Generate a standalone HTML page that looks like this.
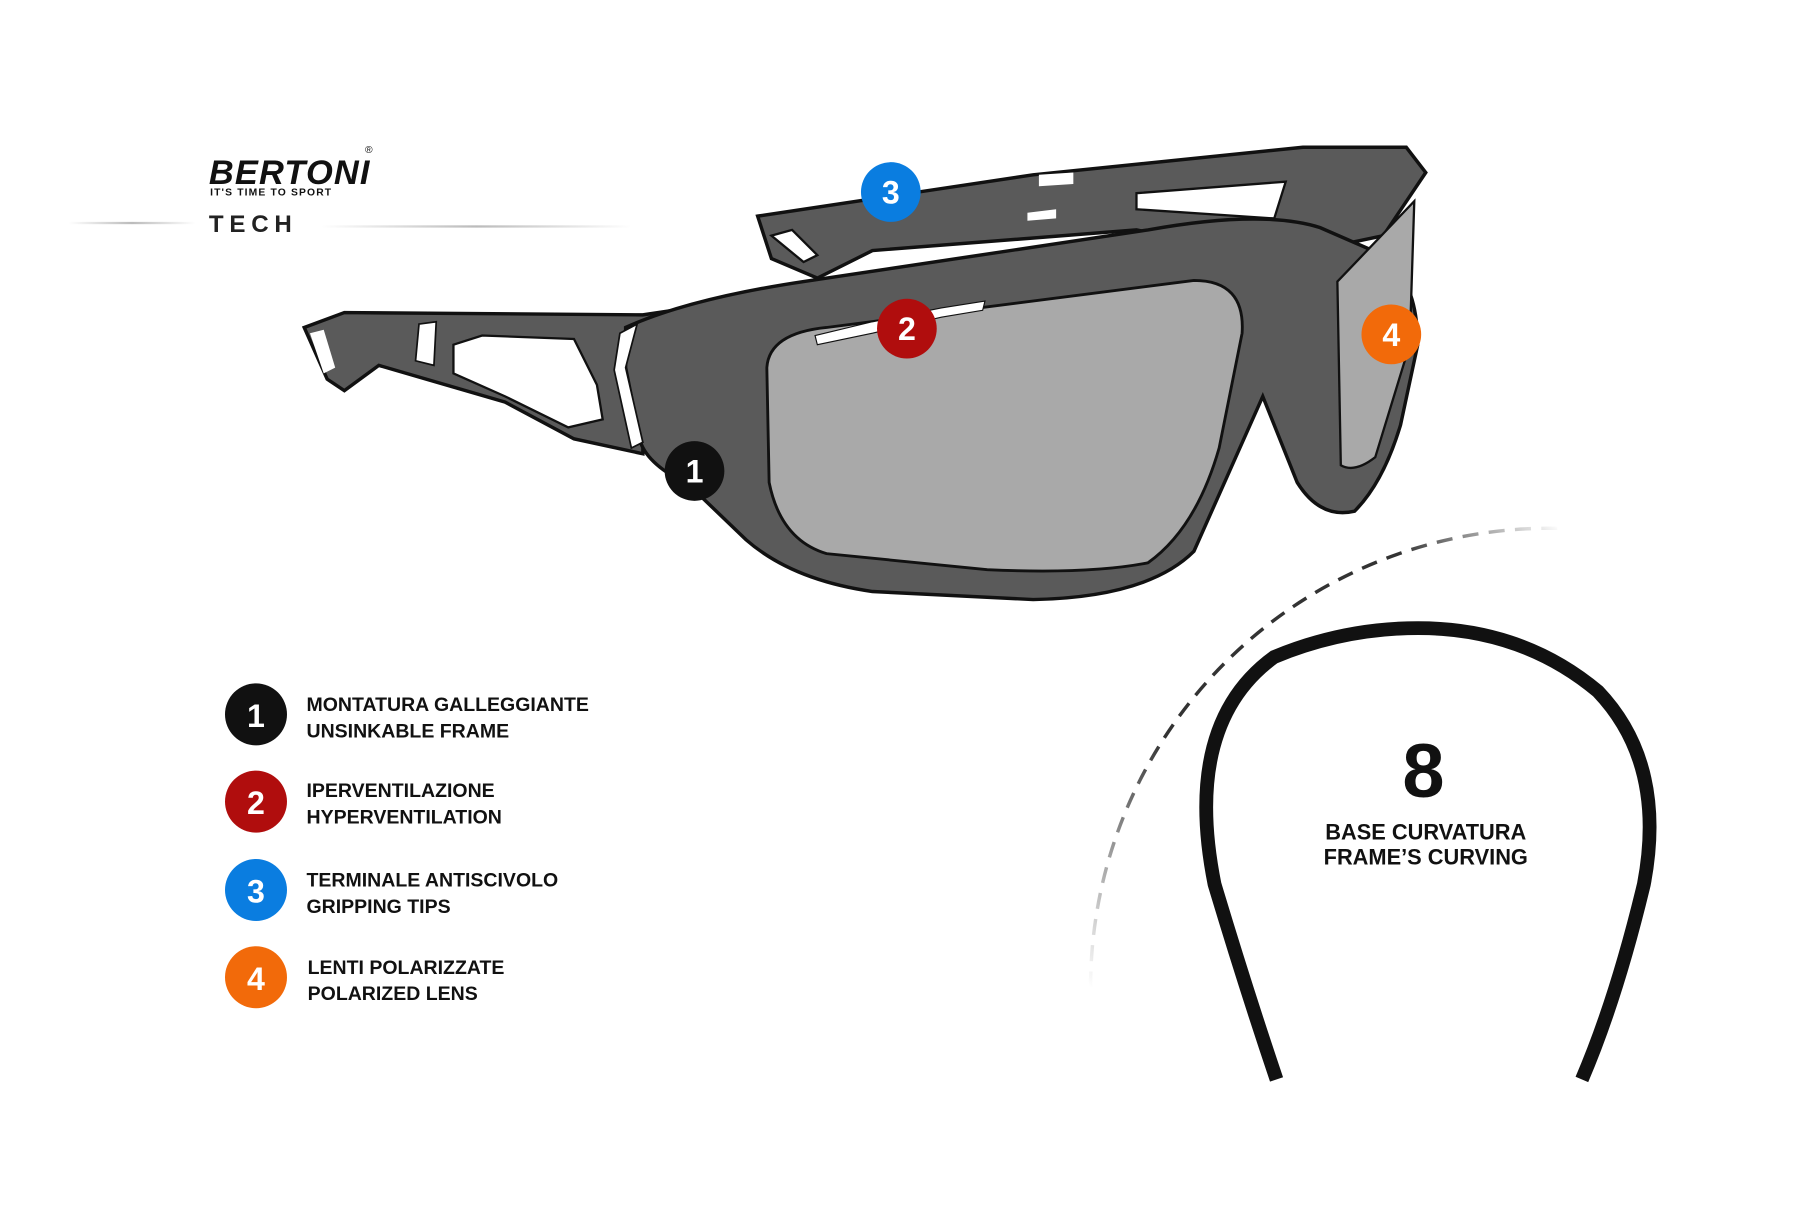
<!DOCTYPE html>
<html><head><meta charset="utf-8"><style>
html,body{margin:0;padding:0;background:#fff;}
svg{display:block;}
text{font-family:"Liberation Sans",sans-serif;}
</style></head><body>
<svg width="1800" height="1206" viewBox="0 0 1568 1050" xmlns="http://www.w3.org/2000/svg">
<defs>
<linearGradient id="ln" x1="0" x2="1"><stop offset="0" stop-color="#fff"/><stop offset="0.5" stop-color="#bbb"/><stop offset="1" stop-color="#fff"/></linearGradient>
<linearGradient id="dash" x1="0" y1="1" x2="1" y2="0"><stop offset="0" stop-color="#fff"/><stop offset="0.35" stop-color="#333"/><stop offset="0.8" stop-color="#333"/><stop offset="1" stop-color="#fff"/></linearGradient>
</defs>
<rect width="1568" height="1050" fill="#fff"/>
<!-- logo -->
<text x="182" y="160" font-size="30" font-weight="bold" font-style="italic" fill="#111" letter-spacing="1">BERTONI</text>
<text x="318" y="133" font-size="9" fill="#111">®</text>
<text x="183" y="170" font-size="9" font-weight="bold" fill="#111" letter-spacing="1">IT'S TIME TO SPORT</text>
<text x="182" y="202" font-size="21" font-weight="bold" fill="#222" letter-spacing="5">TECH</text>
<rect x="60" y="193" width="110" height="2" fill="url(#ln)"/>
<rect x="280" y="196" width="270" height="2" fill="url(#ln)"/>

<!-- top temple arm -->
<path d="M660,188 L900,152 L1135,128 L1225,128 L1242,150 L1205,205 L1110,225 L990,200 L760,218 L712,242 L672,225 Z" fill="#5a5a5a" stroke="#111" stroke-width="3"/>
<path d="M990,168 L1120,158 L1110,190 L990,182 Z" fill="#fff" stroke="#111" stroke-width="2"/>
<path d="M672,205 L690,200 L712,222 L700,228 Z" fill="#fff" stroke="#111" stroke-width="2"/>
<path d="M905,152 L935,150 L935,160 L905,162 Z M895,185 L920,182 L920,190 L895,192 Z" fill="#fff"/>
<!-- left temple arm -->
<path d="M265,285 L300,272 L560,274 L600,268 L560,330 L560,395 L500,382 L440,350 L330,318 L300,340 L285,330 Z" fill="#5a5a5a" stroke="#111" stroke-width="3"/>
<path d="M395,300 L420,292 L500,295 L520,335 L525,365 L495,372 L440,345 L395,325 Z" fill="#fff" stroke="#111" stroke-width="2"/>
<path d="M270,290 L282,287 L292,320 L282,325 Z" fill="#fff"/>
<path d="M365,282 L380,280 L378,318 L362,314 Z" fill="#fff" stroke="#111" stroke-width="1.5"/>
<!-- front frame -->
<path d="M545,285 Q600,260 700,245 L1000,200 Q1100,182 1150,198 L1205,222 Q1235,245 1235,300 L1220,370 Q1205,420 1180,445 Q1150,452 1130,420 L1100,345 L1040,480 Q1000,520 900,522 L760,515 Q690,505 650,470 L600,422 Q565,405 558,385 L545,320 Z" fill="#5a5a5a" stroke="#111" stroke-width="3"/>
<path d="M540,290 L555,282 L545,320 L560,385 L550,390 L535,322 Z" fill="#fff" stroke="#111" stroke-width="1.5"/>
<!-- lens -->
<path d="M668,320 Q670,290 720,285 L1040,244 Q1085,244 1082,290 L1062,390 Q1042,460 1000,490 Q950,500 860,496 L720,482 Q680,470 670,420 Z" fill="#a9a9a9" stroke="#111" stroke-width="2.5"/>
<path d="M1165,245 L1232,175 L1228,300 L1198,398 Q1180,412 1168,405 Z" fill="#a9a9a9" stroke="#111" stroke-width="2"/>
<path d="M710,292 L760,280 L820,268 L858,262 L856,270 L820,276 L760,290 L712,300 Z" fill="#fff" stroke="#111" stroke-width="1"/>
<!-- badges -->
<g font-weight="bold" font-size="28" text-anchor="middle" fill="#fff">
<circle cx="605" cy="410" r="26" fill="#111"/><text x="605" y="420">1</text>
<circle cx="790" cy="286" r="26" fill="#b00d0d"/><text x="790" y="296">2</text>
<circle cx="776" cy="167" r="26" fill="#0a7de0"/><text x="776" y="177">3</text>
<circle cx="1212" cy="291" r="26" fill="#f26a0a"/><text x="1212" y="301">4</text>
<circle cx="223" cy="622" r="27" fill="#111"/><text x="223" y="633">1</text>
<circle cx="223" cy="698" r="27" fill="#b00d0d"/><text x="223" y="709">2</text>
<circle cx="223" cy="775" r="27" fill="#0a7de0"/><text x="223" y="786">3</text>
<circle cx="223" cy="851" r="27" fill="#f26a0a"/><text x="223" y="862">4</text>
</g>
<g font-weight="bold" font-size="17" fill="#111">
<text x="267" y="619">MONTATURA GALLEGGIANTE</text><text x="267" y="642">UNSINKABLE FRAME</text>
<text x="267" y="694">IPERVENTILAZIONE</text><text x="267" y="717">HYPERVENTILATION</text>
<text x="267" y="772">TERMINALE ANTISCIVOLO</text><text x="267" y="795">GRIPPING TIPS</text>
<text x="268" y="848">LENTI POLARIZZATE</text><text x="268" y="871">POLARIZED LENS</text>
</g>
<!-- curvature -->
<path d="M950,860 A400,400 0 0 1 1360,460" fill="none" stroke="url(#dash)" stroke-width="3" stroke-dasharray="14,9"/>
<path d="M1112,940 Q1085,860 1058,770 Q1030,630 1110,572 Q1175,545 1245,547 Q1330,550 1392,602 Q1452,665 1432,770 Q1408,870 1378,940" fill="none" stroke="#111" stroke-width="12"/>
<text x="1240" y="694" font-size="66" font-weight="bold" text-anchor="middle" fill="#111">8</text>
<text x="1242" y="731" font-size="19" font-weight="bold" text-anchor="middle" fill="#111">BASE CURVATURA</text>
<text x="1242" y="753" font-size="19" font-weight="bold" text-anchor="middle" fill="#111">FRAME’S CURVING</text>
</svg>
</body></html>
